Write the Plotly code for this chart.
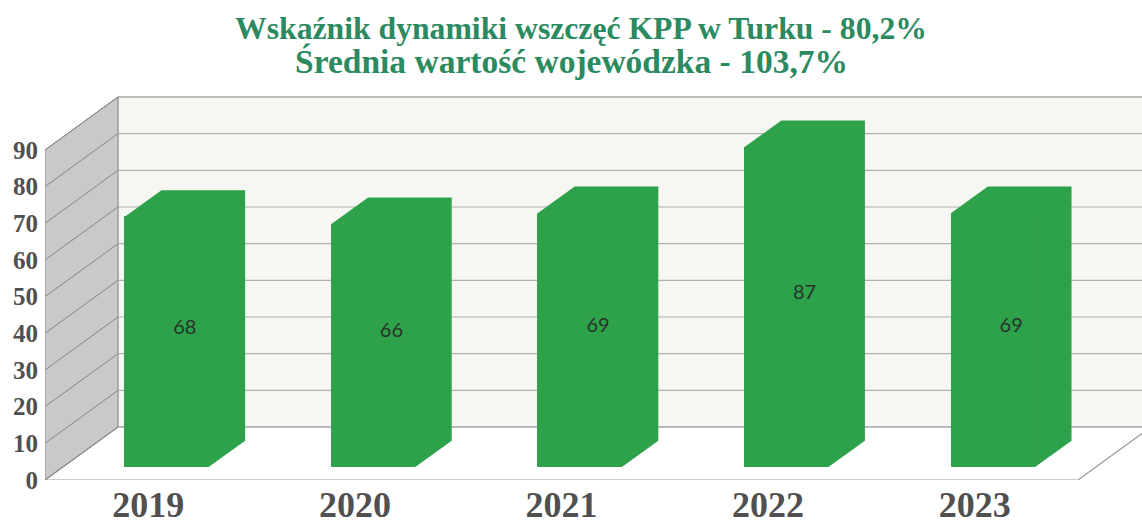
import plotly.graph_objects as go

# ---------------- data ----------------
years = ["2019", "2020", "2021", "2022", "2023"]
values = [68, 66, 69, 87, 69]
y_ticks = [0, 10, 20, 30, 40, 50, 60, 70, 80, 90]
title_line1 = "Wskaźnik dynamiki wszczęć KPP w Turku - 80,2%"
title_line2 = "Średnia wartość wojewódzka - 103,7%"

# ---------------- layout constants ----------------
W, H = 1142, 527
ML, MB = 45, 47
CAT_PX = 206.6          # pixels per category
VAL_PX = 3.667          # pixels per value unit
DX = 73 / CAT_PX        # depth shift (x units) for full depth
DY = 53 / VAL_PX        # depth shift (value units) for full depth
D0, D1 = 0.25, 0.75     # bar depth span
HALF_W = 0.2
WALL_TOP = y_ticks[-1]

GREEN = "#2ea24b"
SIDE_WALL = "#c9c9c9"
BACK_WALL = "#f6f6f2"

xs = list(range(len(years)))
x_lo, x_hi = -0.5, len(years) - 0.5


def P(x, v, d):
    return x + d * DX, v + d * DY


def path(points, close=True):
    parts = []
    for k, (x, v, d) in enumerate(points):
        a, b = P(x, v, d)
        parts.append(("M" if k == 0 else "L") + f"{a:.5f},{b:.5f}")
    return " ".join(parts) + (" Z" if close else "")


def poly(points):
    px, py = [], []
    for (x, v, d) in list(points) + [points[0]]:
        a, b = P(x, v, d)
        px.append(a)
        py.append(b)
    return px, py


shapes = []
# back wall
shapes.append(dict(type="path", xref="x", yref="y", layer="below",
                   path=path([(x_lo, 0, 1), (x_hi, 0, 1), (x_hi, WALL_TOP, 1), (x_lo, WALL_TOP, 1)]),
                   fillcolor=BACK_WALL, line=dict(color="#b8b8b8", width=1)))
# side wall
shapes.append(dict(type="path", xref="x", yref="y", layer="below",
                   path=path([(x_lo, 0, 0), (x_lo, WALL_TOP, 0), (x_lo, WALL_TOP, 1), (x_lo, 0, 1)]),
                   fillcolor=SIDE_WALL, line=dict(color="#8a8a8a", width=1)))
# floor
shapes.append(dict(type="path", xref="x", yref="y", layer="below",
                   path=path([(x_lo, 0, 0), (x_hi, 0, 0), (x_hi, 0, 1), (x_lo, 0, 1)]),
                   fillcolor="#ffffff", line=dict(color="#9a9a9a", width=1.2)))
# gridlines
for v in y_ticks:
    shapes.append(dict(type="path", xref="x", yref="y", layer="below",
                       path=path([(x_lo, v, 1), (x_hi, v, 1)], close=False),
                       line=dict(color="#b0b0b0", width=1.2)))
    shapes.append(dict(type="path", xref="x", yref="y", layer="below",
                       path=path([(x_lo, v, 0), (x_lo, v, 1)], close=False),
                       line=dict(color="#858585", width=1)))

fig = go.Figure()

# bars: front faces
fig.add_trace(go.Bar(
    x=[x + D0 * DX for x in xs], y=values, base=D0 * DY, width=2 * HALF_W,
    marker=dict(color=GREEN, line=dict(width=1, color=GREEN)), hoverinfo="skip", showlegend=False))

# bars: top + side faces
cx, cy = [], []
for x, v in zip(xs, values):
    px, py = poly([(x + HALF_W, 0, D0), (x + HALF_W, 0, D1), (x + HALF_W, v, D1),
                   (x - HALF_W, v, D1), (x - HALF_W, v, D0), (x + HALF_W, v, D0)])
    cx += px + [None]
    cy += py + [None]
fig.add_trace(go.Scatter(x=cx, y=cy, fill="toself", fillcolor=GREEN, mode="lines",
                         line=dict(color=GREEN, width=1.5), hoverinfo="skip", showlegend=False))

# value labels at bar centre (mid depth)
lx = [P(x, v / 2, 0.5)[0] for x, v in zip(xs, values)]
ly = [P(x, v / 2, 0.5)[1] for x, v in zip(xs, values)]
fig.add_trace(go.Scatter(x=lx, y=ly, mode="text", text=[str(v) for v in values],
                         textfont=dict(family="Lato", size=20, color="#26342a"),
                         hoverinfo="skip", showlegend=False))

plot_h = H - MB
fig.update_layout(
    width=W, height=H,
    margin=dict(l=ML, r=0, t=0, b=MB),
    paper_bgcolor="#ffffff", plot_bgcolor="#ffffff",
    bargap=0,
    shapes=shapes,
    xaxis=dict(range=[x_lo, x_lo + (W - ML) / CAT_PX], tickvals=xs, ticktext=years,
               showgrid=False, zeroline=False, showline=False, ticks="",
               tickfont=dict(family="Liberation Serif", size=36, color="#505050", weight="bold"),
               ticklabelstandoff=0, fixedrange=True),
    yaxis=dict(range=[0, plot_h / VAL_PX], tickvals=y_ticks,
               showgrid=False, zeroline=False, showline=False, ticks="",
               tickfont=dict(family="Liberation Serif", size=25, color="#505050", weight="bold"),
               ticklabelstandoff=6, fixedrange=True),
    annotations=[
        dict(text="<b>" + title_line1 + "</b>", xref="paper", yref="paper",
             x=(581 - ML) / (W - ML), y=(plot_h - 28) / plot_h, xanchor="center", yanchor="middle",
             showarrow=False, font=dict(family="Liberation Serif", size=31.7, color="#2b8a60")),
        dict(text="<b>" + title_line2 + "</b>", xref="paper", yref="paper",
             x=(571 - ML) / (W - ML), y=(plot_h - 61) / plot_h, xanchor="center", yanchor="middle",
             showarrow=False, font=dict(family="Liberation Serif", size=33.5, color="#2b8a60")),
    ],
)

fig.write_html("out.html")
